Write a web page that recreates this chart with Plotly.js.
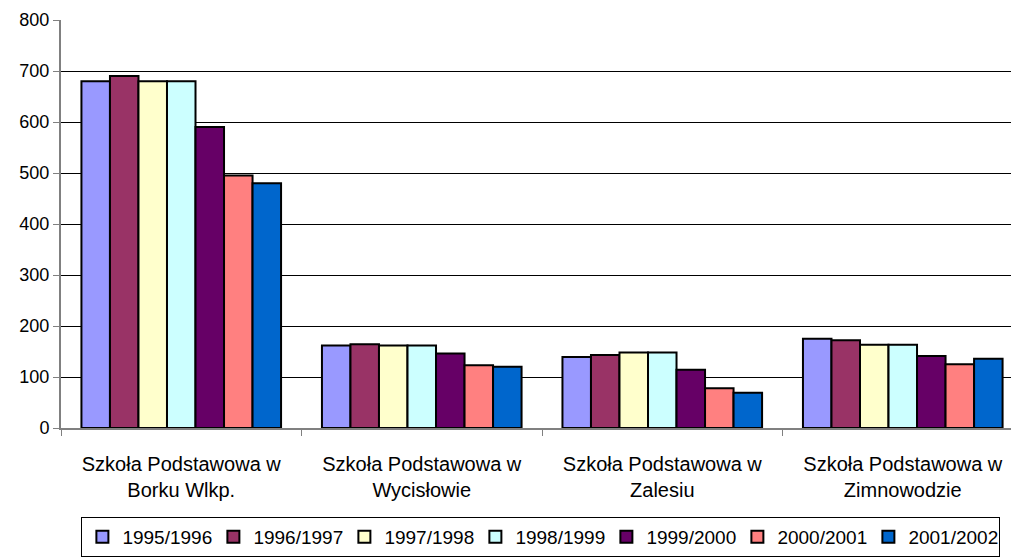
<!DOCTYPE html>
<html>
<head>
<meta charset="utf-8">
<script src="https://cdn.plot.ly/plotly-3.0.1.min.js"></script>
<style>html,body{margin:0;padding:0;background:#fff;overflow:hidden}</style>
</head>
<body>
<div id="chart" style="width:1011px;height:557px"></div>
<script>
const categories = [
  "Szkoła Podstawowa w<br>Borku Wlkp.",
  "Szkoła Podstawowa w<br>Wycisłowie",
  "Szkoła Podstawowa w<br>Zalesiu",
  "Szkoła Podstawowa w<br>Zimnowodzie"
];
const seriesNames = ["1995/1996","1996/1997","1997/1998","1998/1999","1999/2000","2000/2001","2001/2002"];
const v1995 = [680, 162, 139, 175];
const v1996 = [690, 164, 143, 172];
const v1997 = [680, 162, 148, 163];
const v1998 = [680, 162, 148, 163];
const v1999 = [590, 146, 114, 141];
const v2000 = [495, 123, 78, 125];
const v2001 = [480, 120, 69, 136];
const seriesValues = [v1995, v1996, v1997, v1998, v1999, v2000, v2001];
const colors = ["#9999FF","#993366","#FFFFCC","#CCFFFF","#660066","#FF8080","#0066CC"];
const yTicks = [0,100,200,300,400,500,600,700,800];

const traces = seriesNames.map((name, i) => ({
  type: "bar",
  name: name,
  x: categories,
  y: seriesValues[i],
  marker: {color: colors[i], line: {color: "#000", width: 2}}
}));

const layout = {
  width: 1011,
  height: 557,
  margin: {l: 61, r: 0, t: 20, b: 129},
  paper_bgcolor: "#fff",
  plot_bgcolor: "#fff",
  font: {family: "Liberation Sans, Arial, sans-serif", color: "#000", size: 18},
  barmode: "group",
  bargap: 0.17,
  bargroupgap: 0,
  showlegend: true,
  legend: {
    orientation: "h",
    xref: "container", yref: "container",
    x: 0.535, xanchor: "center",
    y: -0.008, yanchor: "bottom",
    bordercolor: "#000", borderwidth: 1,
    bgcolor: "#fff",
    font: {size: 19},
    entrywidth: 86,
    entrywidthmode: "pixels",
    traceorder: "normal"
  },
  xaxis: {
    type: "category",
    range: [-0.5, 3.45],
    showline: true, linecolor: "#808080", linewidth: 2,
    ticks: "outside", tickson: "boundaries", ticklen: 6, tickcolor: "#808080",
    showgrid: false,
    tickfont: {size: 20},
    ticklabelstandoff: 17
  },
  yaxis: {
    range: [0, 800],
    tickvals: yTicks,
    ticktext: yTicks.map(String),
    showline: true, linecolor: "#808080", linewidth: 2,
    ticks: "outside", ticklen: 6, tickcolor: "#808080",
    showgrid: true, gridcolor: "#000", gridwidth: 1,
    zeroline: false,
    tickfont: {size: 18}
  }
};

Plotly.newPlot("chart", traces, layout, {displayModeBar: false, staticPlot: true});
</script>
</body>
</html>
